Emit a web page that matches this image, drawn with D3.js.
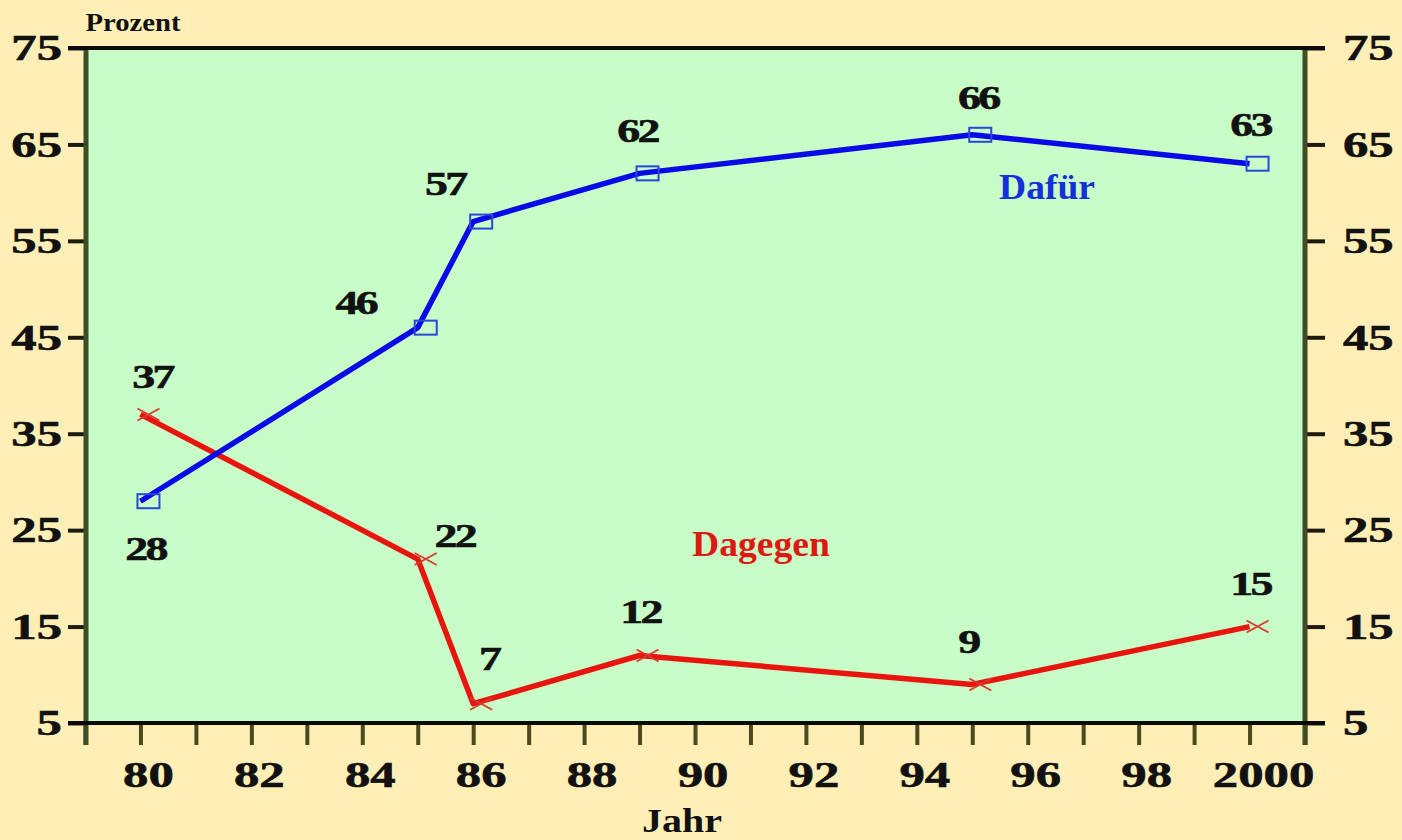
<!DOCTYPE html>
<html>
<head>
<meta charset="utf-8">
<script src="https://cdn.jsdelivr.net/npm/d3@7"></script>
<style>
  html, body { margin: 0; padding: 0; background: #FFEFB6; }
  svg { display: block; }
</style>
</head>
<body>
<svg id="chart" width="1402" height="840"></svg>
<script>
// Survey results (percent) by year
const years = [80, 85, 86, 89, 95, 100];
const dafuer = [28, 46, 57, 62, 66, 63];
const dagegen = [37, 22, 7, 12, 9, 15];

// Axis ticks
const yTickValues = [5, 15, 25, 35, 45, 55, 65, 75];
const xMinorTicks = d3.range(79, 102);
const xLabelValues = [80, 82, 84, 86, 88, 90, 92, 94, 96, 98, 100];
const xLabelTexts = ["80", "82", "84", "86", "88", "90", "92", "94", "96", "98", "2000"];

// Placement of value labels relative to each marker (px)
const dafuerLabelOffset = [[-3, 47], [-70, -26], [-36, -38], [-10, -43], [-2, -38], [-7, -40]];
const dagegenLabelOffset = [[4, -38], [29, -24], [8, -46], [-7, -44], [-12, -43], [-7, -43]];

const W = 1402, H = 840;
const plot = { left: 85, right: 1305, top: 48, bottom: 723 };
const FONT = "'Liberation Serif', 'Times New Roman', serif";
const SX = 1.45; // horizontal stretch of the lettering

const svg = d3.select("#chart");

const x = d3.scaleLinear().domain([79, 101]).range([plot.left, plot.right]);
const y = d3.scaleLinear().domain([5, 75]).range([plot.bottom, plot.top]);
const markerShift = 8;

// background
svg.append("rect").attr("width", W).attr("height", H).attr("fill", "#FFEFB6");
svg.append("rect")
  .attr("x", plot.left).attr("y", plot.top)
  .attr("width", plot.right - plot.left).attr("height", plot.bottom - plot.top)
  .attr("fill", "#C8FDC8");

// stretched text helper
function stretchedText(g, tx, ty, str, opts) {
  const sx = opts.sx || SX;
  const t = g.append("text")
    .attr("transform", `translate(${tx},${ty}) scale(${sx},1)`)
    .attr("text-anchor", opts.anchor || "middle")
    .attr("dy", "0.35em")
    .attr("font-family", FONT)
    .attr("font-weight", "bold")
    .attr("font-size", opts.size || 34)
    .attr("fill", opts.fill || "#111")
    .attr("stroke", opts.fill || "#111")
    .attr("stroke-width", 0.6)
    .text(str);
  if (opts.ls) t.attr("letter-spacing", opts.ls);
  return t;
}

// left axis
const leftAxis = d3.axisLeft(y).tickValues(yTickValues).tickSize(20).tickFormat("");
const gl = svg.append("g").attr("transform", `translate(${plot.left + 3},0)`).call(leftAxis);
gl.select(".domain").remove();
gl.selectAll(".tick line").attr("stroke", "#1a1a10").attr("stroke-width", 4);

// right axis
const rightAxis = d3.axisRight(y).tickValues(yTickValues).tickSize(20).tickFormat("");
const gr = svg.append("g").attr("transform", `translate(${plot.right},0)`).call(rightAxis);
gr.select(".domain").remove();
gr.selectAll(".tick line").attr("stroke", "#1a1a10").attr("stroke-width", 4);

// y tick labels on both sides
const labelsG = svg.append("g");
yTickValues.forEach(v => {
  stretchedText(labelsG, 62, y(v), String(v), { anchor: "end", size: 35, sx: 1.45 });
  stretchedText(labelsG, 1343, y(v), String(v), { anchor: "start", size: 35, sx: 1.45 });
});

// bottom axis ticks (every year)
const bottomAxis = d3.axisBottom(x).tickValues(xMinorTicks).tickSize(22).tickFormat("");
const gb = svg.append("g").attr("transform", `translate(0,${plot.bottom})`).call(bottomAxis);
gb.select(".domain").remove();
gb.selectAll(".tick line").attr("stroke", "#4a4a1c").attr("stroke-width", 4);

// x tick labels
xLabelValues.forEach((v, i) => {
  const extra = xLabelTexts[i].length > 2 ? 14 : 8;
  stretchedText(labelsG, x(v) + extra, 775, xLabelTexts[i], { size: 35, sx: 1.45 });
});

// frame: left/right olive, top/bottom black extending as the 75 and 5 ticks
svg.append("line").attr("x1", plot.left + 1).attr("x2", plot.left + 1)
  .attr("y1", plot.top).attr("y2", plot.bottom + 22)
  .attr("stroke", "#3f4d26").attr("stroke-width", 5);
svg.append("line").attr("x1", plot.right).attr("x2", plot.right)
  .attr("y1", plot.top).attr("y2", plot.bottom + 22)
  .attr("stroke", "#3f4d26").attr("stroke-width", 5);
svg.append("line").attr("x1", 68).attr("x2", 1325)
  .attr("y1", plot.top).attr("y2", plot.top)
  .attr("stroke", "#0a0a0a").attr("stroke-width", 4);
svg.append("line").attr("x1", 68).attr("x2", 1325)
  .attr("y1", plot.bottom).attr("y2", plot.bottom)
  .attr("stroke", "#0a0a0a").attr("stroke-width", 4);

// series lines
const line = d3.line().x(d => x(d[0])).y(d => y(d[1]));
const dafuerPts = years.map((yr, i) => [yr, dafuer[i]]);
const dagegenPts = years.map((yr, i) => [yr, dagegen[i]]);

svg.append("path").datum(dagegenPts).attr("d", line)
  .attr("fill", "none").attr("stroke", "#E8140E").attr("stroke-width", 5.5)
  .attr("stroke-linejoin", "round");
svg.append("path").datum(dafuerPts).attr("d", line)
  .attr("fill", "none").attr("stroke", "#0A0AE6").attr("stroke-width", 5.5)
  .attr("stroke-linejoin", "round");

// markers: hollow squares for Dafür, crosses for Dagegen
svg.append("g").selectAll("rect").data(dafuerPts).join("rect")
  .attr("x", d => x(d[0]) + markerShift - 11)
  .attr("y", d => y(d[1]) - 7)
  .attr("width", 22).attr("height", 14)
  .attr("fill", "none").attr("stroke", "#2848D8").attr("stroke-width", 2);

svg.append("g").selectAll("path").data(dagegenPts).join("path")
  .attr("d", d => {
    const cx = x(d[0]) + markerShift, cy = y(d[1]);
    return `M${cx - 11},${cy - 6}L${cx + 11},${cy + 6}M${cx - 11},${cy + 6}L${cx + 11},${cy - 6}`;
  })
  .attr("fill", "none").attr("stroke", "#D83A30").attr("stroke-width", 1.8);

// value labels
const valG = svg.append("g");
dafuerPts.forEach((d, i) => {
  const [dx, dy] = dafuerLabelOffset[i];
  stretchedText(valG, x(d[0]) + markerShift + dx, y(d[1]) + dy, String(d[1]),
    { size: 34, sx: 1.35, ls: -2 });
});
dagegenPts.forEach((d, i) => {
  const [dx, dy] = dagegenLabelOffset[i];
  stretchedText(valG, x(d[0]) + markerShift + dx, y(d[1]) + dy, String(d[1]),
    { size: 34, sx: 1.35, ls: -2 });
});

// series names
svg.append("text").attr("x", 1047).attr("y", 186).attr("dy", "0.35em")
  .attr("text-anchor", "middle").attr("font-family", FONT).attr("font-weight", "bold")
  .attr("font-size", 36).attr("fill", "#1530D8")
  .attr("textLength", 96).attr("lengthAdjust", "spacingAndGlyphs")
  .text("Dafür");
svg.append("text").attr("x", 761).attr("y", 543).attr("dy", "0.35em")
  .attr("text-anchor", "middle").attr("font-family", FONT).attr("font-weight", "bold")
  .attr("font-size", 36).attr("fill", "#DD1A12")
  .attr("textLength", 138).attr("lengthAdjust", "spacingAndGlyphs")
  .text("Dagegen");

// axis titles
svg.append("text").attr("x", 133).attr("y", 22).attr("dy", "0.35em")
  .attr("text-anchor", "middle").attr("font-family", FONT).attr("font-weight", "bold")
  .attr("font-size", 26).attr("fill", "#111")
  .attr("textLength", 95).attr("lengthAdjust", "spacingAndGlyphs")
  .text("Prozent");
svg.append("text").attr("x", 682).attr("y", 820).attr("dy", "0.35em")
  .attr("text-anchor", "middle").attr("font-family", FONT).attr("font-weight", "bold")
  .attr("font-size", 34).attr("fill", "#111")
  .attr("textLength", 80).attr("lengthAdjust", "spacingAndGlyphs")
  .text("Jahr");
</script>
</body>
</html>
